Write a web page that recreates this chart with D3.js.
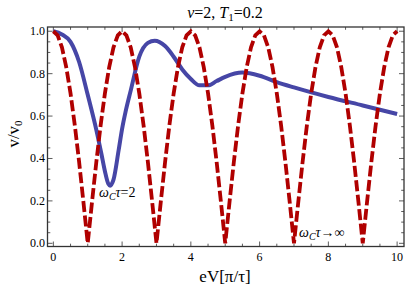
<!DOCTYPE html>
<html>
<head>
<meta charset="utf-8">
<script src="https://cdn.jsdelivr.net/npm/d3@7"></script>
<style>
  body { margin: 0; background: #fff; }
</style>
</head>
<body>
<div id="chart"></div>
<script>
// values
var redX = d3.range(0, 10.0001, 0.125);
var redY = [
  1, 0.981, 0.924, 0.831, 0.707, 0.556, 0.383, 0.195, 0, 0.195, 0.383, 0.556, 0.707, 0.831, 0.924, 0.981,
  1, 0.981, 0.924, 0.831, 0.707, 0.556, 0.383, 0.195, 0, 0.195, 0.383, 0.556, 0.707, 0.831, 0.924, 0.981,
  1, 0.981, 0.924, 0.831, 0.707, 0.556, 0.383, 0.195, 0, 0.195, 0.383, 0.556, 0.707, 0.831, 0.924, 0.981,
  1, 0.981, 0.924, 0.831, 0.707, 0.556, 0.383, 0.195, 0, 0.195, 0.383, 0.556, 0.707, 0.831, 0.924, 0.981,
  1, 0.981, 0.924, 0.831, 0.707, 0.556, 0.383, 0.195, 0, 0.195, 0.383, 0.556, 0.707, 0.831, 0.924, 0.981,
  1
];
var blueX = [0, 0.25, 0.5, 0.75, 1.0, 1.25, 1.4, 1.5, 1.6, 1.65, 1.75, 1.9, 2.0, 2.1, 2.25, 2.5, 2.75, 2.95,
  3.25, 3.5, 3.75, 4.0, 4.25, 4.5, 4.75, 5.0, 5.5, 6.0, 6.5, 7.0, 8.0, 9.0, 10.0];
var blueY = [1.0, 0.985, 0.95, 0.855, 0.70, 0.535, 0.42, 0.34, 0.28, 0.272, 0.30, 0.44, 0.54, 0.62, 0.72, 0.88, 0.945, 0.955,
  0.93, 0.88, 0.82, 0.775, 0.745, 0.745, 0.765, 0.785, 0.805, 0.79, 0.76, 0.735, 0.69, 0.65, 0.61];
var xTicks = [0, 2, 4, 6, 8, 10];
var yTicks = [0, 0.2, 0.4, 0.6, 0.8, 1.0];

var width = 415, height = 294;
var pLeft = 47.5, pRight = 404, pTop = 27, pBottom = 246.5;
var serif = '"Liberation Serif", "DejaVu Serif", "Noto Serif", Tinos, FreeSerif, "Times New Roman", Times, serif';

var svg = d3.select('#chart').append('svg')
    .attr('width', width)
    .attr('height', height)
    .attr('font-family', serif);

var x = d3.scaleLinear().domain([-0.17, 10.2]).range([pLeft, pRight]);
var y = d3.scaleLinear().domain([-0.015, 1.02]).range([pBottom, pTop]);

var xMinor = d3.range(0, 10.01, 0.5);
var yMinor = d3.range(0, 1.001, 0.05);

// ticks on all four sides, pointing in
function drawTicks(g, vals, major, scale, orient) {
    vals.forEach(function(v) {
        var isMajor = major.some(function(m) { return Math.abs(m - v) < 1e-6; });
        var len = isMajor ? 5 : 2.8;
        var p = scale(v);
        var line = g.append('line').attr('stroke', '#333').attr('stroke-width', 0.8);
        if (orient === 'bottom') line.attr('x1', p).attr('x2', p).attr('y1', pBottom).attr('y2', pBottom - len);
        if (orient === 'top') line.attr('x1', p).attr('x2', p).attr('y1', pTop).attr('y2', pTop + len);
        if (orient === 'left') line.attr('y1', p).attr('y2', p).attr('x1', pLeft).attr('x2', pLeft + len);
        if (orient === 'right') line.attr('y1', p).attr('y2', p).attr('x1', pRight).attr('x2', pRight - len);
    });
}

var ticks = svg.append('g');
drawTicks(ticks, xMinor, xTicks, x, 'bottom');
drawTicks(ticks, xMinor, xTicks, x, 'top');
drawTicks(ticks, yMinor, yTicks, y, 'left');
drawTicks(ticks, yMinor, yTicks, y, 'right');

// curves
var blueLine = d3.line()
    .x(function(d, i) { return x(blueX[i]); })
    .y(function(d) { return y(d); })
    .curve(d3.curveMonotoneX);

svg.append('path')
    .attr('d', blueLine(blueY))
    .attr('fill', 'none')
    .attr('stroke', '#4646a6')
    .attr('stroke-width', 4);

var redLine = d3.line()
    .x(function(d, i) { return x(redX[i]); })
    .y(function(d) { return y(d); });

svg.append('path')
    .attr('d', redLine(redY))
    .attr('fill', 'none')
    .attr('stroke', '#b00000')
    .attr('stroke-width', 3.8)
    .attr('stroke-dasharray', '11,3.5');

// frame
svg.append('rect')
    .attr('x', pLeft).attr('y', pTop)
    .attr('width', pRight - pLeft).attr('height', pBottom - pTop)
    .attr('fill', 'none')
    .attr('stroke', '#333')
    .attr('stroke-width', 1.3);

// tick labels
svg.selectAll('.xl').data(xTicks).enter().append('text')
    .attr('x', function(d) { return x(d); })
    .attr('y', 261)
    .attr('text-anchor', 'middle')
    .attr('font-size', 12)
    .text(function(d) { return d; });

svg.selectAll('.yl').data(yTicks).enter().append('text')
    .attr('x', 45)
    .attr('y', function(d) { return y(d) + 4; })
    .attr('text-anchor', 'end')
    .attr('font-size', 12)
    .text(function(d) { return d.toFixed(1); });

// title
var title = svg.append('text')
    .attr('x', 225).attr('y', 18)
    .attr('text-anchor', 'middle')
    .attr('font-size', 16);
title.append('tspan').attr('font-style', 'italic').text('ν');
title.append('tspan').text('=2, ');
title.append('tspan').attr('font-style', 'italic').text('T');
title.append('tspan').attr('font-size', 11).attr('dy', 3).text('1');
title.append('tspan').attr('dy', -3).text('=0.2');

// axis labels
svg.append('text')
    .attr('x', 225).attr('y', 282)
    .attr('text-anchor', 'middle')
    .attr('font-size', 17)
    .text('eV[π/τ]');

var yl = svg.append('text')
    .attr('transform', 'translate(19,134) rotate(-90)')
    .attr('text-anchor', 'middle')
    .attr('font-size', 17);
yl.append('tspan').text('v/v');
yl.append('tspan').attr('font-size', 11).attr('dy', 3).text('0');

// curve labels
function omegaLabel(px, py, rest) {
    var t = svg.append('text').attr('x', px).attr('y', py).attr('font-size', 14);
    t.append('tspan').attr('font-style', 'italic').text('ω');
    t.append('tspan').attr('font-style', 'italic').attr('font-size', 10).attr('dy', 2.5).text('C');
    t.append('tspan').attr('font-style', 'italic').attr('dy', -2.5).text('τ');
    t.append('tspan').text(rest);
}
omegaLabel(99, 197, '=2');
omegaLabel(299, 237, '→∞');
</script>
</body>
</html>
